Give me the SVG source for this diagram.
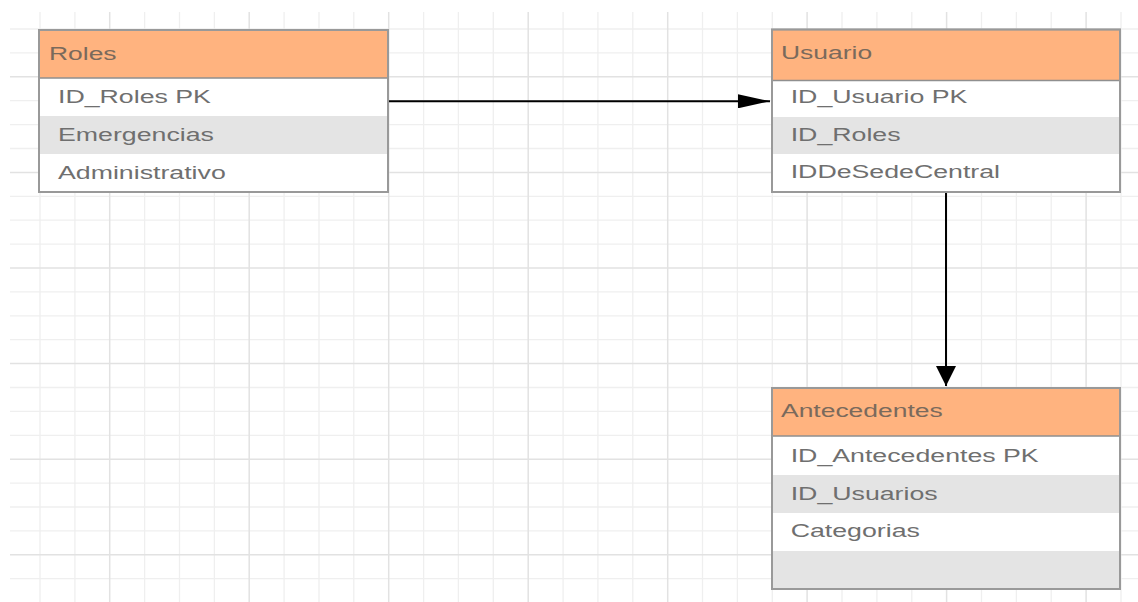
<svg xmlns="http://www.w3.org/2000/svg" width="1138" height="602" viewBox="0 0 1138 602">
<style>
.bg{fill:#ffffff}
.gthin{stroke:#efefef;stroke-width:1.3;fill:none}
.gthick{stroke:#e2e2e2;stroke-width:1.5;fill:none}
.hdr{fill:#ffb37f;stroke:#8f8f8f;stroke-width:1.5}
.roww{fill:#ffffff}
.rowg{fill:#e4e4e4}
.frame{fill:none;stroke:#999999;stroke-width:2}
.htext{font-family:"Liberation Sans",Arial,sans-serif;font-size:18.5px;fill:#7a6a5c}
.rtext{font-family:"Liberation Sans",Arial,sans-serif;font-size:18.5px;fill:#6f6f6f}
.conn{stroke:#000000;stroke-width:2;fill:none}
</style>
<defs>
<marker id="arrH" markerUnits="userSpaceOnUse" markerWidth="32" markerHeight="14" refX="32" refY="7" orient="auto" viewBox="0 0 32 14">
<path d="M0,0 L32,7 L0,14 z" fill="#000000"/>
</marker>
<marker id="arrV" markerUnits="userSpaceOnUse" markerWidth="20" markerHeight="20" refX="20" refY="10" orient="auto" viewBox="0 0 20 20">
<path d="M0,0 L20,10 L0,20 z" fill="#000000"/>
</marker>
</defs>
<rect class="bg" x="0" y="0" width="1138" height="602"/>
<g id="grid">
<path class="gthin" d="M40,12V602 M74.9,12V602 M144.6,12V602 M179.5,12V602 M214.4,12V602 M284.1,12V602 M319,12V602 M353.8,12V602 M423.6,12V602 M458.4,12V602 M493.3,12V602 M563.1,12V602 M597.9,12V602 M632.8,12V602 M702.5,12V602 M737.4,12V602 M772.3,12V602 M842,12V602 M876.9,12V602 M911.8,12V602 M981.5,12V602 M1016.4,12V602 M1051.2,12V602 M1121,12V602
M10,29H1138 M10,52.9H1138 M10,100.7H1138 M10,124.6H1138 M10,148.5H1138 M10,196.3H1138 M10,220.2H1138 M10,244.1H1138 M10,291.9H1138 M10,315.8H1138 M10,339.7H1138 M10,387.5H1138 M10,411.4H1138 M10,435.3H1138 M10,483.1H1138 M10,507H1138 M10,530.9H1138 M10,578.7H1138"/>
<path class="gthick" d="M109.7,12V602 M249.2,12V602 M388.7,12V602 M528.2,12V602 M667.7,12V602 M807.1,12V602 M946.6,12V602 M1086.1,12V602
M10,76.8H1138 M10,172.4H1138 M10,268H1138 M10,363.6H1138 M10,459.2H1138 M10,554.8H1138"/>
</g>
<g id="connectors">
<line class="conn" x1="388" y1="101.3" x2="770" y2="101.3" marker-end="url(#arrH)"/>
<line class="conn" x1="946" y1="192" x2="946" y2="386" marker-end="url(#arrV)"/>
</g>
<g id="roles">
<rect class="roww" x="39" y="78" width="349" height="38"/>
<rect class="rowg" x="39" y="116" width="349" height="38"/>
<rect class="roww" x="39" y="154" width="349" height="38"/>
<rect class="hdr" x="39" y="30" width="349" height="48"/>
<rect class="frame" x="39" y="30" width="349" height="162"/>
<text class="htext" transform="translate(49 59.5) scale(1.43 1)">Roles</text>
<text class="rtext" transform="translate(58 102.7) scale(1.445 1)">ID_Roles PK</text>
<text class="rtext" transform="translate(58 141) scale(1.445 1)">Emergencias</text>
<text class="rtext" transform="translate(58 179) scale(1.445 1)">Administrativo</text>
</g>
<g id="usuario">
<rect class="roww" x="772" y="80.5" width="348" height="36.5"/>
<rect class="rowg" x="772" y="117" width="348" height="37"/>
<rect class="roww" x="772" y="154" width="348" height="38"/>
<rect class="hdr" x="772" y="29.5" width="348" height="51"/>
<rect class="frame" x="772" y="29.5" width="348" height="162.5"/>
<text class="htext" transform="translate(781 59.3) scale(1.43 1)">Usuario</text>
<text class="rtext" transform="translate(790.7 102.7) scale(1.445 1)">ID_Usuario PK</text>
<text class="rtext" transform="translate(790.7 140.7) scale(1.445 1)">ID_Roles</text>
<text class="rtext" transform="translate(790.7 178.3) scale(1.445 1)">IDDeSedeCentral</text>
</g>
<g id="antecedentes">
<rect class="roww" x="772" y="436" width="348" height="39"/>
<rect class="rowg" x="772" y="475" width="348" height="38"/>
<rect class="roww" x="772" y="513" width="348" height="38"/>
<rect class="rowg" x="772" y="551" width="348" height="38"/>
<rect class="hdr" x="772" y="388" width="348" height="48"/>
<rect class="frame" x="772" y="388" width="348" height="201"/>
<text class="htext" transform="translate(781 416.7) scale(1.43 1)">Antecedentes</text>
<text class="rtext" transform="translate(790.7 462) scale(1.445 1)">ID_Antecedentes PK</text>
<text class="rtext" transform="translate(790.7 499.7) scale(1.445 1)">ID_Usuarios</text>
<text class="rtext" transform="translate(790.7 537.3) scale(1.445 1)">Categorias</text>
</g>
</svg>
